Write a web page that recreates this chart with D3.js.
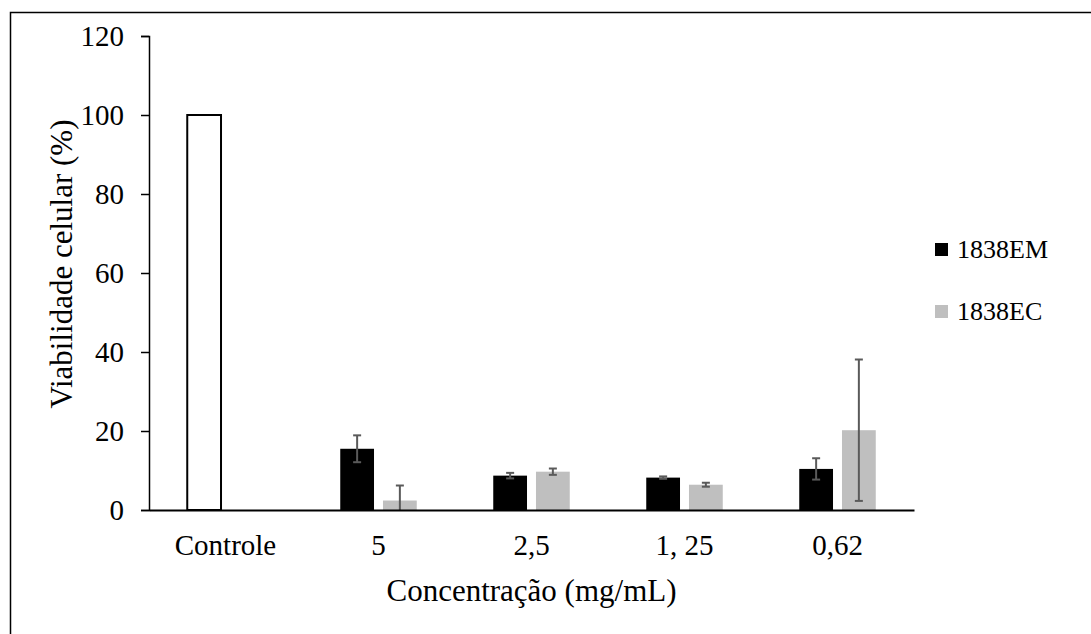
<!DOCTYPE html>
<html>
<head>
<meta charset="utf-8">
<script src="https://cdn.jsdelivr.net/npm/d3@7"></script>
<style>
  body { margin: 0; background: #fff; }
  svg text { font-family: "Liberation Serif", "Times New Roman", Times, serif !important; fill: #000; }
</style>
</head>
<body>
<div id="chart"></div>
<script>
// data
var categories = ["Controle", "5", "2,5", "1, 25", "0,62"];
var series = ["1838EM", "1838EC"];
var controle = [100, null, null, null, null];
var em = [null, 15.5, 8.7, 8.2, 10.4];
var emErr = [null, 3.4, 0.7, 0.3, 2.7];
var ec = [null, 2.4, 9.7, 6.4, 20.2];
var ecErr = [null, 3.8, 0.8, 0.5, 17.9];
var yTicks = [0, 20, 40, 60, 80, 100, 120];
var colors = { "1838EM": "#000000", "1838EC": "#bfbfbf" };

var FONT = "'Liberation Serif', 'Times New Roman', Times, serif";

var W = 1091, H = 634;
var margin = {top: 36, right: 177, bottom: 124, left: 149},
    width = W - margin.left - margin.right,
    height = H - margin.top - margin.bottom;

var svg = d3.select("#chart").append("svg")
    .attr("width", W)
    .attr("height", H)
    .style("font-family", FONT);

// outer frame
svg.append("rect")
    .attr("x", 10.5).attr("y", 12.5)
    .attr("width", 1200).attr("height", 800)
    .attr("fill", "none")
    .attr("stroke", "#000")
    .attr("stroke-width", 1.5);

var g = svg.append("g")
    .attr("transform", "translate(" + margin.left + "," + margin.top + ")");

// scales
var x0 = d3.scaleBand().domain(categories).range([0, width]);
var x1 = d3.scaleBand().domain(series)
    .range([x0.bandwidth() * 0.25, x0.bandwidth() * 0.75])
    .paddingInner(0.21);
var y = d3.scaleLinear().domain([0, 120]).range([height, 0]);

// build rows
var rows = [];
categories.forEach(function(c, i) {
  if (em[i] != null) rows.push({cat: c, s: "1838EM", v: em[i], e: emErr[i]});
  if (ec[i] != null) rows.push({cat: c, s: "1838EC", v: ec[i], e: ecErr[i]});
});

// control bar (white, outlined) in the first slot
g.selectAll(".ctrl")
  .data(categories.map(function(c, i) { return {cat: c, v: controle[i]}; })
    .filter(function(d) { return d.v != null; }))
  .enter().append("rect")
    .attr("class", "ctrl")
    .attr("x", function(d) { return x0(d.cat) + x1("1838EM"); })
    .attr("y", function(d) { return y(d.v); })
    .attr("width", x1.bandwidth())
    .attr("height", function(d) { return y(0) - y(d.v); })
    .attr("fill", "#fff")
    .attr("stroke", "#000")
    .attr("stroke-width", 2);

// bars
g.selectAll(".bar")
  .data(rows)
  .enter().append("rect")
    .attr("class", "bar")
    .attr("x", function(d) { return x0(d.cat) + x1(d.s); })
    .attr("y", function(d) { return y(d.v); })
    .attr("width", x1.bandwidth())
    .attr("height", function(d) { return y(0) - y(d.v); })
    .attr("fill", function(d) { return colors[d.s]; });

// error bars
var eb = g.selectAll(".err")
  .data(rows)
  .enter().append("g")
    .attr("class", "err")
    .attr("stroke", "#5a5a5a")
    .attr("stroke-width", 2);

function cx(d) { return x0(d.cat) + x1(d.s) + x1.bandwidth() / 2; }
function lo(d) { return y(Math.max(0, d.v - d.e)); }
function hi(d) { return y(d.v + d.e); }

eb.append("line")
  .attr("x1", cx).attr("x2", cx)
  .attr("y1", lo).attr("y2", hi);
eb.append("line")
  .attr("x1", function(d) { return cx(d) - 4; })
  .attr("x2", function(d) { return cx(d) + 4; })
  .attr("y1", hi).attr("y2", hi);
eb.filter(function(d) { return d.v - d.e > 0; })
  .append("line")
  .attr("x1", function(d) { return cx(d) - 4; })
  .attr("x2", function(d) { return cx(d) + 4; })
  .attr("y1", lo).attr("y2", lo);

// y axis
var yAxis = g.append("g")
    .call(d3.axisLeft(y).tickValues(yTicks).tickSize(8).tickPadding(17))
    .attr("font-family", FONT);
yAxis.select(".domain").attr("stroke", "#000").attr("stroke-width", 1.5);
yAxis.selectAll(".tick line").attr("stroke", "#000").attr("stroke-width", 1.5);
yAxis.selectAll("text").style("font-size", "29px").style("font-family", FONT).attr("fill", "#000");

// x axis
var xAxis = g.append("g")
    .attr("transform", "translate(0," + height + ")")
    .call(d3.axisBottom(x0).tickSize(0).tickPadding(24).tickSizeOuter(0))
    .attr("font-family", FONT);
xAxis.select(".domain").attr("stroke", "#000").attr("stroke-width", 2);
xAxis.selectAll("text").style("font-size", "29px").style("font-family", FONT).attr("fill", "#000");

// axis titles
g.append("text")
    .attr("x", width / 2)
    .attr("y", height + 91)
    .attr("text-anchor", "middle")
    .style("font-size", "31px")
    .style("font-family", FONT)
    .text("Concentração (mg/mL)");

g.append("text")
    .attr("transform", "rotate(-90)")
    .attr("x", -height / 2 + 9)
    .attr("y", -77)
    .attr("text-anchor", "middle")
    .style("font-size", "31px")
    .style("font-family", FONT)
    .text("Viabilidade celular (%)");

// legend
var legend = svg.append("g")
    .attr("transform", "translate(935,243)");
var li = legend.selectAll(".li")
  .data(series)
  .enter().append("g")
    .attr("transform", function(d, i) { return "translate(0," + (i * 62) + ")"; });
li.append("rect")
    .attr("width", 13).attr("height", 13)
    .attr("fill", function(d) { return colors[d]; });
li.append("text")
    .attr("x", 22)
    .attr("y", 15)
    .style("font-size", "26px")
    .style("font-family", FONT)
    .text(function(d) { return d; });
</script>
</body>
</html>
